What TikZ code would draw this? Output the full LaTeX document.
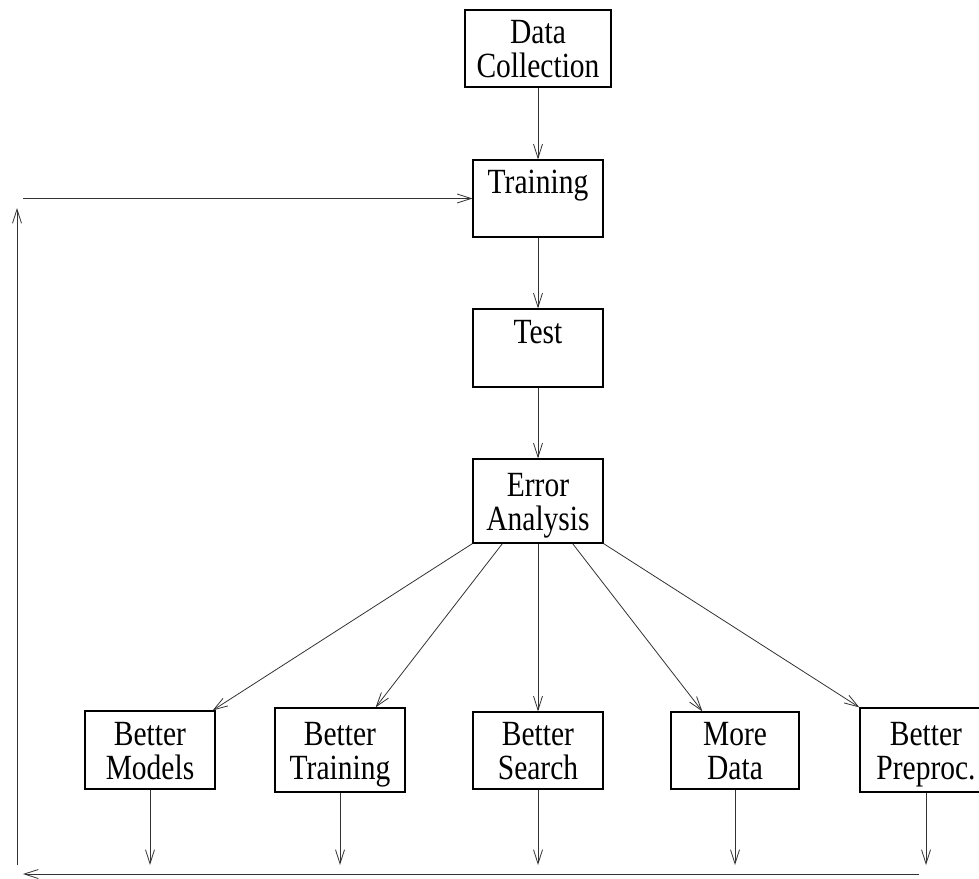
\documentclass[tikz,border=0pt]{standalone}
\usepackage{fontspec}
\setmainfont{Liberation Serif}
\usepackage{graphicx}
\usetikzlibrary{arrows.meta}
\newcommand{\twol}[2]{\rule{0pt}{24pt}\scalebox{1}[1.2]{#1}\\\smash{\scalebox{1}[1.2]{#2}}}
\tikzset{
  box/.style={draw, line width=1.2pt, inner sep=0pt, align=center,
    font=\fontsize{29.5}{34}\selectfont},
  conn/.style={line width=0.8pt, draw=black!80, -{Straight Barb[length=14pt,width=9pt,line width=0.8pt]}},
}
\begin{document}
\begin{tikzpicture}[x=1pt,y=-1pt]
\useasboundingbox[fill=white] (0,0) rectangle (979,878);
% main column
\node[box, minimum width=146pt, minimum height=77pt] (dc) at (538,48.5) {\twol{Data}{Collection}};
\node[box, minimum width=130pt, minimum height=77pt] (tr) at (538,198.5) {\twol{Training}{}};
\node[box, minimum width=130pt, minimum height=78pt] (te) at (538,348) {\twol{Test}{}};
\node[box, minimum width=130pt, minimum height=84pt] (ea) at (538,501) {\twol{Error}{Analysis}};
% bottom row
\node[box, minimum width=130pt, minimum height=78pt] (bm) at (150,750) {\twol{Better}{Models}};
\node[box, minimum width=130pt, minimum height=84pt] (bt) at (340,750) {\twol{Better}{Training}};
\node[box, minimum width=130pt, minimum height=77pt] (bs) at (538,750.5) {\twol{Better}{Search}};
\node[box, minimum width=128pt, minimum height=77pt] (md) at (735,750.5) {\twol{More}{Data}};
\node[box, minimum width=132pt, minimum height=84pt] (bp) at (926,750) {\twol{Better}{Preproc.}};
% main flow
\draw[conn] (dc.south) -- (tr.north);
\draw[conn] (tr.south) -- (te.north);
\draw[conn] (te.south) -- (ea.north);
% fan out
\draw[conn] (ea.south west) -- ([xshift=-3pt]bm.north east);
\draw[conn] ([xshift=30pt]ea.south west) -- ([xshift=-30pt]bt.north east);
\draw[conn] (ea.south) -- (bs.north);
\draw[conn] ([xshift=-31pt]ea.south east) -- ([xshift=32pt]md.north west);
\draw[conn] (ea.south east) -- (bp.north west);
% down arrows
\coordinate (bmE) at (150,865);
\coordinate (btE) at (340,865);
\coordinate (bsE) at (538,865);
\coordinate (mdE) at (735,865);
\coordinate (bpE) at (926,865);
\draw[conn] (bm.south) -- (bmE);
\draw[conn] (bt.south) -- (btE);
\draw[conn] (bs.south) -- (bsE);
\draw[conn] (md.south) -- (mdE);
\draw[conn] (bp.south) -- (bpE);
% feedback loop
\coordinate (lb1) at (919,874);
\coordinate (lb2) at (23,874);
\coordinate (lv1) at (17,865);
\coordinate (lv2) at (17,208);
\coordinate (lt) at (23,198.5);
\draw[conn] (lb1) -- (lb2);
\draw[conn] (lv1) -- (lv2);
\draw[conn] (lt) -- (tr.west);
\end{tikzpicture}
\end{document}
